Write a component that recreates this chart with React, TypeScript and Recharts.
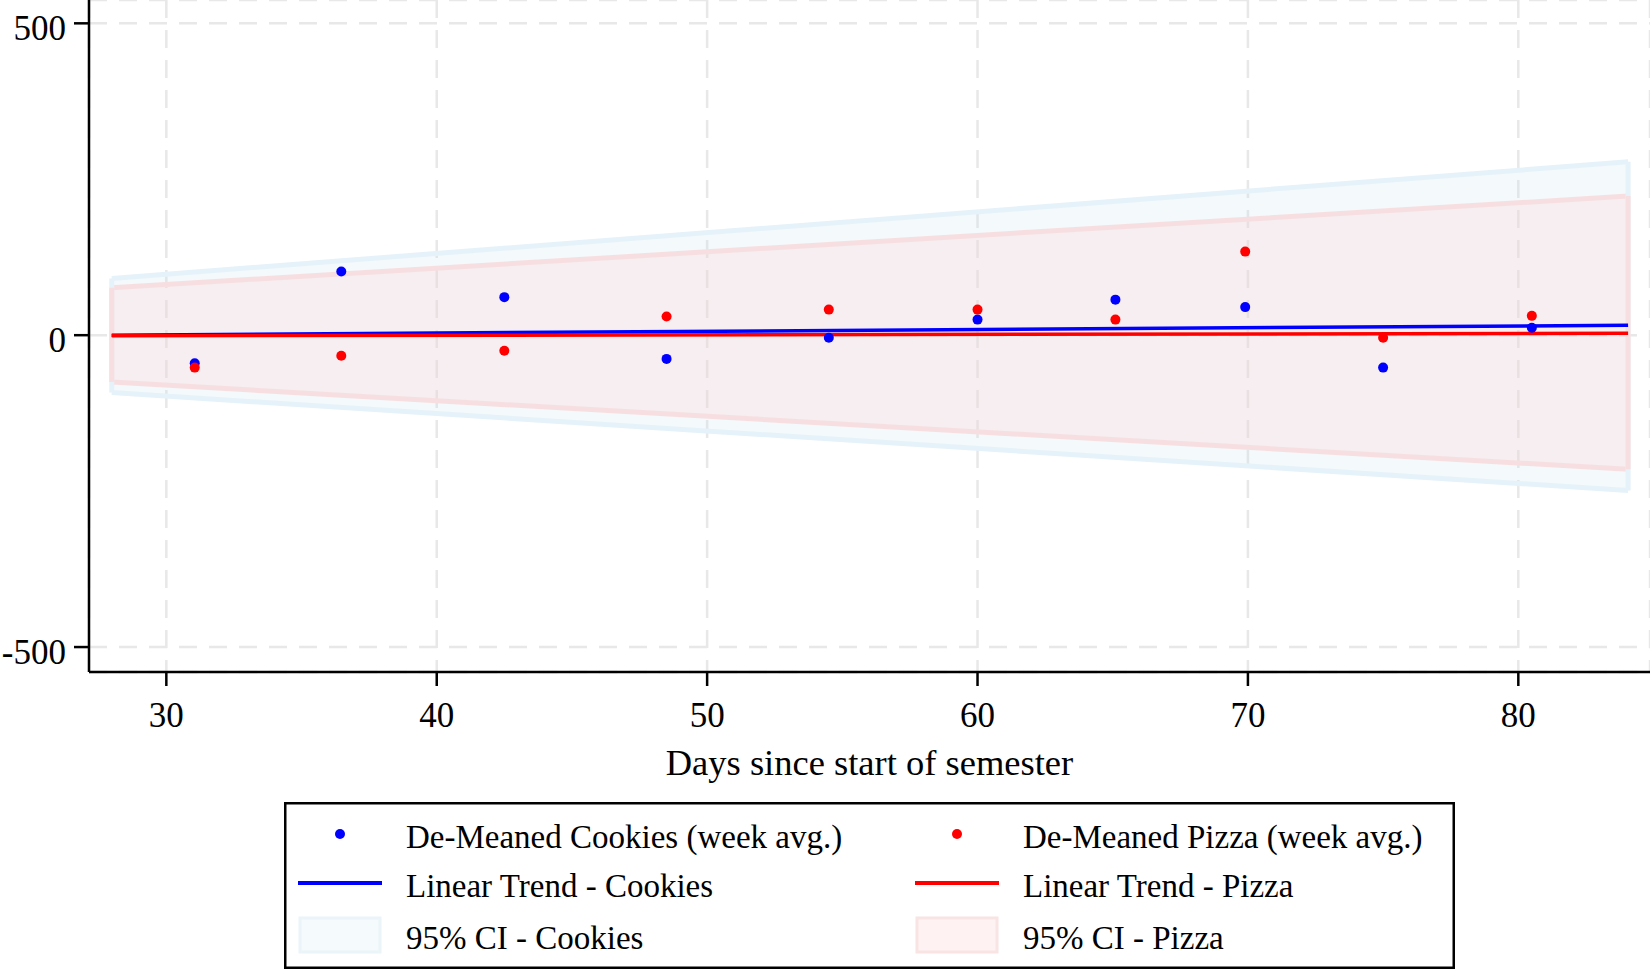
import {
  ComposedChart,
  XAxis,
  YAxis,
  CartesianGrid,
  Scatter,
  Line,
  Area,
  Legend,
  ReferenceLine,
} from "recharts";

// weekly averages, de-meaned
const weekDays = [31.05, 36.47, 42.5, 48.5, 54.5, 60.0, 65.1, 69.9, 75.0, 80.5];
const cookiesDemeaned = [-45, 102, 61, -38, -4, 25, 57, 45, -52, 12];
const pizzaDemeaned = [-52, -33, -25, 30, 41, 41, 25, 134, -4, 31];

// fitted trend + 95% CI at both ends of the fit range
const fitDays = [27.98, 84.06];
const cookiesTrend = [0, 16];
const pizzaTrend = [-1, 3];
const cookiesCiLow = [-92, -249];
const cookiesCiHigh = [91, 278];
const pizzaCiLow = [-75, -215];
const pizzaCiHigh = [76, 223];

const xTicks = [30, 40, 50, 60, 70, 80];
const yTicks = [-500, 0, 500];

const FONT = '"Liberation Serif", "Times New Roman", serif';
const BLUE = "#0000ff";
const RED = "#ff0000";
const CI_BLUE = "rgb(200,225,240)";
const CI_RED = "rgb(251,212,212)";
const CI_BLUE_EDGE = "#e6f2f9";
const CI_RED_EDGE = "#f7dfe1";

const cookiesPoints = weekDays.map((day, i) => ({ day, value: cookiesDemeaned[i] }));
const pizzaPoints = weekDays.map((day, i) => ({ day, value: pizzaDemeaned[i] }));
const cookiesLine = fitDays.map((day, i) => ({ day, value: cookiesTrend[i] }));
const pizzaLine = fitDays.map((day, i) => ({ day, value: pizzaTrend[i] }));
const cookiesBand = fitDays.map((day, i) => ({ day, ci: [cookiesCiLow[i], cookiesCiHigh[i]] }));
const pizzaBand = fitDays.map((day, i) => ({ day, ci: [pizzaCiLow[i], pizzaCiHigh[i]] }));

const dot = (color: string) => (props: any) =>
  <circle cx={props.cx} cy={props.cy} r={5} fill={color} />;

// tick labels drawn by hand so the serif font sticks
const XTick = (props: any) => (
  <text x={props.x} y={props.y} dy={25} textAnchor="middle" fontFamily={FONT} fontSize={35} fill="#000">
    {props.payload.value}
  </text>
);
const YTick = (props: any) => (
  <text x={props.x} y={props.y} dy={16.5} textAnchor="end" fontFamily={FONT} fontSize={35} fill="#000">
    {props.payload.value}
  </text>
);

const legendCols = [
  { dot: BLUE, band: CI_BLUE, bandOpacity: 0.18, bandStroke: "#eaf4f9", labels: ["De-Meaned Cookies (week avg.)", "Linear Trend - Cookies", "95% CI - Cookies"] },
  { dot: RED, band: CI_RED, bandOpacity: 0.3, bandStroke: "#f9e4e4", labels: ["De-Meaned Pizza (week avg.)", "Linear Trend - Pizza", "95% CI - Pizza"] },
];

function ChartLegend() {
  const colX = [56, 673];
  const rowY = [32, 81, 133];
  return (
    <svg width={1171} height={167} style={{ display: "block" }}>
      <rect x={1.25} y={1.25} width={1168.5} height={164.5} fill="#fff" stroke="#000" strokeWidth={2.5} />
      {legendCols.map((c, ci) => {
        const cx = colX[ci];
        return (
          <g key={ci}>
            <circle cx={cx} cy={rowY[0]} r={5} fill={c.dot} />
            <line x1={cx - 42} x2={cx + 42} y1={rowY[1]} y2={rowY[1]} stroke={c.dot} strokeWidth={4} />
            <rect x={cx - 40} y={rowY[2] - 17} width={80} height={34} fill={c.band} fillOpacity={c.bandOpacity} stroke={c.bandStroke} strokeWidth={3} />
            {c.labels.map((t, ri) => (
              <text key={ri} x={cx + 66} y={rowY[ri] + 14} fontFamily={FONT} fontSize={33} fill="#000">
                {t}
              </text>
            ))}
          </g>
        );
      })}
    </svg>
  );
}

// vertical closing edges of the CI bands
const bandEdges = [
  { color: CI_BLUE_EDGE, low: cookiesCiLow, high: cookiesCiHigh },
  { color: CI_RED_EDGE, low: pizzaCiLow, high: pizzaCiHigh },
];

export default function App() {
  return (
    <div style={{ position: "absolute", left: 0, top: 0, background: "#fff", fontFamily: FONT }}>
      <ComposedChart width={1650} height={969} margin={{ top: 0, right: 0, bottom: 0, left: 0 }}>
        <CartesianGrid stroke="#e8e8e8" strokeWidth={2.5} strokeDasharray="18 12" />
        <XAxis
          dataKey="day"
          type="number"
          domain={[27.14, 84.87]}
          allowDataOverflow
          ticks={xTicks}
          height={130}
          tickSize={14}
          tickMargin={16}
          axisLine={{ stroke: "#000", strokeWidth: 2.5 }}
          tickLine={{ stroke: "#000", strokeWidth: 2.5 }}
          tick={<XTick />}
          label={{
            value: "Days since start of semester",
            position: "insideBottom",
            offset: 27,
            fill: "#000",
            fontSize: 36.5,
            fontFamily: FONT,
          }}
        />
        <YAxis
          type="number"
          domain={[-540, 537.4]}
          allowDataOverflow
          ticks={yTicks}
          width={89}
          tickSize={15}
          tickMargin={8}
          axisLine={{ stroke: "#000", strokeWidth: 2.5 }}
          tickLine={{ stroke: "#000", strokeWidth: 2.5 }}
          tick={<YTick />}
        />
        <Legend
          verticalAlign="bottom"
          content={() => <ChartLegend />}
          wrapperStyle={{ left: 284, bottom: 0, width: 1171 }}
        />
        <Area
          data={cookiesBand}
          dataKey="ci"
          type="linear"
          fill={CI_BLUE}
          fillOpacity={0.2}
          stroke={CI_BLUE_EDGE}
          strokeWidth={5}
          isAnimationActive={false}
        />
        <Area
          data={pizzaBand}
          dataKey="ci"
          type="linear"
          fill={CI_RED}
          fillOpacity={0.3}
          stroke={CI_RED_EDGE}
          strokeWidth={5}
          isAnimationActive={false}
        />
        {bandEdges.flatMap((b, bi) =>
          fitDays.map((d, i) => (
            <ReferenceLine
              key={`${bi}-${i}`}
              segment={[
                { x: d, y: b.low[i] },
                { x: d, y: b.high[i] },
              ]}
              stroke={b.color}
              strokeWidth={5}
            />
          ))
        )}
        <Scatter data={cookiesPoints} dataKey="value" fill={BLUE} shape={dot(BLUE)} isAnimationActive={false} />
        <Scatter data={pizzaPoints} dataKey="value" fill={RED} shape={dot(RED)} isAnimationActive={false} />
        <Line data={cookiesLine} dataKey="value" type="linear" stroke={BLUE} strokeWidth={3.5} dot={false} isAnimationActive={false} />
        <Line data={pizzaLine} dataKey="value" type="linear" stroke={RED} strokeWidth={3.5} dot={false} isAnimationActive={false} />
      </ComposedChart>
    </div>
  );
}
